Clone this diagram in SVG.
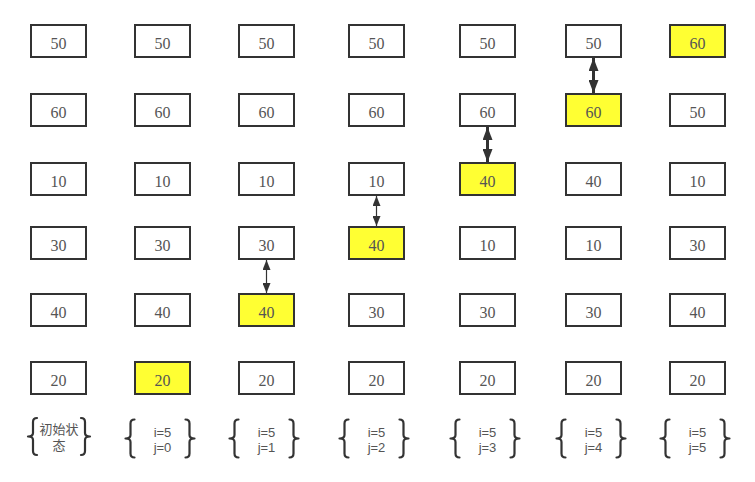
<svg xmlns="http://www.w3.org/2000/svg" width="755" height="482" viewBox="0 0 755 482">
<style>
.box rect{fill:#fff;stroke:#333;stroke-width:2}
.box.hl rect{fill:#ffff33}
.box text{font-family:"Liberation Serif","Noto Serif CJK SC",serif;font-size:16px;fill:#555;text-anchor:middle}
.lbl text{font-family:"Liberation Sans","Noto Sans CJK SC",sans-serif;font-size:13px;fill:#555;text-anchor:middle}
.brace{fill:none;stroke:#333;stroke-width:2.2;stroke-linejoin:round;stroke-linecap:round}
.thin{stroke:#333;stroke-width:1.2;fill:none}
.thick{stroke:#333;stroke-width:3;fill:none}
</style>
<defs>
<marker id="ah" markerUnits="userSpaceOnUse" viewBox="0 0 10 8" refX="10" refY="4" markerWidth="10" markerHeight="8" orient="auto-start-reverse"><path d="M0,0L10,4L0,8z" fill="#333"/></marker>
<marker id="ahb" markerUnits="userSpaceOnUse" viewBox="0 0 13 10" refX="13" refY="5" markerWidth="13" markerHeight="10" orient="auto-start-reverse"><path d="M0,0L13,5L0,10z" fill="#333"/></marker>
</defs>
<rect width="755" height="482" fill="#fff"/>

<!-- column 1 -->
<g id="c1r1" class="box"><rect x="31" y="25" width="55" height="32"/><text x="58.5" y="49">50</text></g>
<g id="c1r2" class="box"><rect x="31" y="94" width="55" height="32"/><text x="58.5" y="118">60</text></g>
<g id="c1r3" class="box"><rect x="31" y="163" width="55" height="32"/><text x="58.5" y="187">10</text></g>
<g id="c1r4" class="box"><rect x="31" y="227" width="55" height="32"/><text x="58.5" y="251">30</text></g>
<g id="c1r5" class="box"><rect x="31" y="294" width="55" height="32"/><text x="58.5" y="318">40</text></g>
<g id="c1r6" class="box"><rect x="31" y="362" width="55" height="32"/><text x="58.5" y="386">20</text></g>

<!-- column 2 -->
<g id="c2r1" class="box"><rect x="135" y="25" width="55" height="32"/><text x="162.5" y="49">50</text></g>
<g id="c2r2" class="box"><rect x="135" y="94" width="55" height="32"/><text x="162.5" y="118">60</text></g>
<g id="c2r3" class="box"><rect x="135" y="163" width="55" height="32"/><text x="162.5" y="187">10</text></g>
<g id="c2r4" class="box"><rect x="135" y="227" width="55" height="32"/><text x="162.5" y="251">30</text></g>
<g id="c2r5" class="box"><rect x="135" y="294" width="55" height="32"/><text x="162.5" y="318">40</text></g>
<g id="c2r6" class="box hl"><rect x="135" y="362" width="55" height="32"/><text x="162.5" y="386">20</text></g>

<!-- column 3 -->
<g id="c3r1" class="box"><rect x="239" y="25" width="55" height="32"/><text x="266.5" y="49">50</text></g>
<g id="c3r2" class="box"><rect x="239" y="94" width="55" height="32"/><text x="266.5" y="118">60</text></g>
<g id="c3r3" class="box"><rect x="239" y="163" width="55" height="32"/><text x="266.5" y="187">10</text></g>
<g id="c3r4" class="box"><rect x="239" y="227" width="55" height="32"/><text x="266.5" y="251">30</text></g>
<g id="c3r5" class="box hl"><rect x="239" y="294" width="55" height="32"/><text x="266.5" y="318">40</text></g>
<g id="c3r6" class="box"><rect x="239" y="362" width="55" height="32"/><text x="266.5" y="386">20</text></g>

<!-- column 4 -->
<g id="c4r1" class="box"><rect x="349" y="25" width="55" height="32"/><text x="376.5" y="49">50</text></g>
<g id="c4r2" class="box"><rect x="349" y="94" width="55" height="32"/><text x="376.5" y="118">60</text></g>
<g id="c4r3" class="box"><rect x="349" y="163" width="55" height="32"/><text x="376.5" y="187">10</text></g>
<g id="c4r4" class="box hl"><rect x="349" y="227" width="55" height="32"/><text x="376.5" y="251">40</text></g>
<g id="c4r5" class="box"><rect x="349" y="294" width="55" height="32"/><text x="376.5" y="318">30</text></g>
<g id="c4r6" class="box"><rect x="349" y="362" width="55" height="32"/><text x="376.5" y="386">20</text></g>

<!-- column 5 -->
<g id="c5r1" class="box"><rect x="460" y="25" width="55" height="32"/><text x="487.5" y="49">50</text></g>
<g id="c5r2" class="box"><rect x="460" y="94" width="55" height="32"/><text x="487.5" y="118">60</text></g>
<g id="c5r3" class="box hl"><rect x="460" y="163" width="55" height="32"/><text x="487.5" y="187">40</text></g>
<g id="c5r4" class="box"><rect x="460" y="227" width="55" height="32"/><text x="487.5" y="251">10</text></g>
<g id="c5r5" class="box"><rect x="460" y="294" width="55" height="32"/><text x="487.5" y="318">30</text></g>
<g id="c5r6" class="box"><rect x="460" y="362" width="55" height="32"/><text x="487.5" y="386">20</text></g>

<!-- column 6 -->
<g id="c6r1" class="box"><rect x="566" y="25" width="55" height="32"/><text x="593.5" y="49">50</text></g>
<g id="c6r2" class="box hl"><rect x="566" y="94" width="55" height="32"/><text x="593.5" y="118">60</text></g>
<g id="c6r3" class="box"><rect x="566" y="163" width="55" height="32"/><text x="593.5" y="187">40</text></g>
<g id="c6r4" class="box"><rect x="566" y="227" width="55" height="32"/><text x="593.5" y="251">10</text></g>
<g id="c6r5" class="box"><rect x="566" y="294" width="55" height="32"/><text x="593.5" y="318">30</text></g>
<g id="c6r6" class="box"><rect x="566" y="362" width="55" height="32"/><text x="593.5" y="386">20</text></g>

<!-- column 7 -->
<g id="c7r1" class="box hl"><rect x="670" y="25" width="55" height="32"/><text x="697.5" y="49">60</text></g>
<g id="c7r2" class="box"><rect x="670" y="94" width="55" height="32"/><text x="697.5" y="118">50</text></g>
<g id="c7r3" class="box"><rect x="670" y="163" width="55" height="32"/><text x="697.5" y="187">10</text></g>
<g id="c7r4" class="box"><rect x="670" y="227" width="55" height="32"/><text x="697.5" y="251">30</text></g>
<g id="c7r5" class="box"><rect x="670" y="294" width="55" height="32"/><text x="697.5" y="318">40</text></g>
<g id="c7r6" class="box"><rect x="670" y="362" width="55" height="32"/><text x="697.5" y="386">20</text></g>

<!-- connectors -->
<g id="connectors">
<line class="thin" x1="266.5" y1="260" x2="266.5" y2="293" marker-start="url(#ah)" marker-end="url(#ah)"/>
<line class="thin" x1="376.5" y1="196" x2="376.5" y2="226" marker-start="url(#ah)" marker-end="url(#ah)"/>
<line class="thick" x1="487.5" y1="127" x2="487.5" y2="162" marker-start="url(#ahb)" marker-end="url(#ahb)"/>
<line class="thick" x1="593.5" y1="58" x2="593.5" y2="93" marker-start="url(#ahb)" marker-end="url(#ahb)"/>
</g>

<!-- labels -->
<g id="lbl1" class="lbl">
<path class="brace" d="M37,418 Q33,418 33,422 L33,433 Q33,436.5 28,436.5 Q33,436.5 33,440 L33,451 Q33,455 37,455"/>
<path class="brace" d="M81,418 Q85,418 85,422 L85,433 Q85,436.5 90,436.5 Q85,436.5 85,440 L85,451 Q85,455 81,455"/>
<text x="59" y="434">初始状</text><text x="59" y="450">态</text>
</g>
<g id="lbl2" class="lbl" transform="translate(162.5,0)">
<path class="brace" d="M-28,419.5 Q-32,419.5 -32,423.5 L-32,435 Q-32,438.5 -37,438.5 Q-32,438.5 -32,442 L-32,453.5 Q-32,457.5 -28,457.5"/>
<path class="brace" d="M23,419.5 Q27,419.5 27,423.5 L27,435 Q27,438.5 32,438.5 Q27,438.5 27,442 L27,453.5 Q27,457.5 23,457.5"/>
<text x="0" y="437">i=5</text><text x="0" y="452">j=0</text>
</g>
<g id="lbl3" class="lbl" transform="translate(266.5,0)">
<path class="brace" d="M-28,419.5 Q-32,419.5 -32,423.5 L-32,435 Q-32,438.5 -37,438.5 Q-32,438.5 -32,442 L-32,453.5 Q-32,457.5 -28,457.5"/>
<path class="brace" d="M23,419.5 Q27,419.5 27,423.5 L27,435 Q27,438.5 32,438.5 Q27,438.5 27,442 L27,453.5 Q27,457.5 23,457.5"/>
<text x="0" y="437">i=5</text><text x="0" y="452">j=1</text>
</g>
<g id="lbl4" class="lbl" transform="translate(376.5,0)">
<path class="brace" d="M-28,419.5 Q-32,419.5 -32,423.5 L-32,435 Q-32,438.5 -37,438.5 Q-32,438.5 -32,442 L-32,453.5 Q-32,457.5 -28,457.5"/>
<path class="brace" d="M23,419.5 Q27,419.5 27,423.5 L27,435 Q27,438.5 32,438.5 Q27,438.5 27,442 L27,453.5 Q27,457.5 23,457.5"/>
<text x="0" y="437">i=5</text><text x="0" y="452">j=2</text>
</g>
<g id="lbl5" class="lbl" transform="translate(487.5,0)">
<path class="brace" d="M-28,419.5 Q-32,419.5 -32,423.5 L-32,435 Q-32,438.5 -37,438.5 Q-32,438.5 -32,442 L-32,453.5 Q-32,457.5 -28,457.5"/>
<path class="brace" d="M23,419.5 Q27,419.5 27,423.5 L27,435 Q27,438.5 32,438.5 Q27,438.5 27,442 L27,453.5 Q27,457.5 23,457.5"/>
<text x="0" y="437">i=5</text><text x="0" y="452">j=3</text>
</g>
<g id="lbl6" class="lbl" transform="translate(593.5,0)">
<path class="brace" d="M-28,419.5 Q-32,419.5 -32,423.5 L-32,435 Q-32,438.5 -37,438.5 Q-32,438.5 -32,442 L-32,453.5 Q-32,457.5 -28,457.5"/>
<path class="brace" d="M23,419.5 Q27,419.5 27,423.5 L27,435 Q27,438.5 32,438.5 Q27,438.5 27,442 L27,453.5 Q27,457.5 23,457.5"/>
<text x="0" y="437">i=5</text><text x="0" y="452">j=4</text>
</g>
<g id="lbl7" class="lbl" transform="translate(697.5,0)">
<path class="brace" d="M-28,419.5 Q-32,419.5 -32,423.5 L-32,435 Q-32,438.5 -37,438.5 Q-32,438.5 -32,442 L-32,453.5 Q-32,457.5 -28,457.5"/>
<path class="brace" d="M23,419.5 Q27,419.5 27,423.5 L27,435 Q27,438.5 32,438.5 Q27,438.5 27,442 L27,453.5 Q27,457.5 23,457.5"/>
<text x="0" y="437">i=5</text><text x="0" y="452">j=5</text>
</g>
</svg>
